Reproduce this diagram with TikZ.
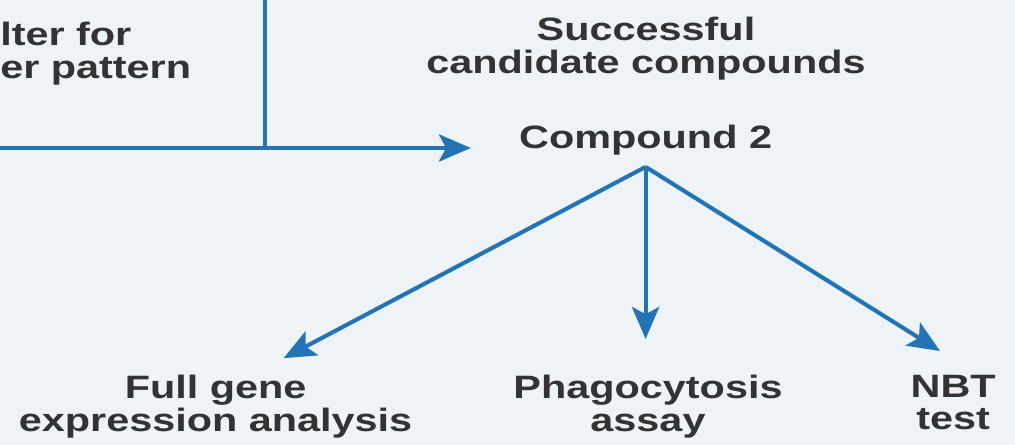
\documentclass[tikz,border=0pt]{standalone}
\usepackage{fontspec}
\newfontfamily\labelfont{Liberation Sans}[FakeStretch=1.28]
\usetikzlibrary{arrows.meta,positioning,calc}
\definecolor{flow}{HTML}{2474B5}
\definecolor{ink}{HTML}{333333}
\definecolor{paper}{HTML}{EEF3F8}
\tikzset{
  lbl/.style={align=center,inner sep=0pt,text=ink,
    font=\labelfont\bfseries\fontsize{23}{23}\selectfont},
  line/.style={draw=flow,line width=2.9pt},
  arr/.style={line,-{Stealth[length=0.8cm,width=0.68cm,inset=0.18cm]}},
}
\begin{document}
\begin{tikzpicture}
  \fill[paper] (0,0) rectangle (25.375,11.125);
  \useasboundingbox (0,0) rectangle (25.375,11.125);
  \clip (0,0) rectangle (25.375,11.125);
  \node[lbl,align=left,anchor=north west] (filter) at (0,10.575) {lter for\\er pattern};
  \node[lbl,anchor=north] (success) at (16.15,10.7) {Successful\\candidate compounds};
  \node[lbl,anchor=north] (c2) at (16.14,8.0) {Compound 2};
  \node[lbl,anchor=north] (gene) at (5.39,1.75) {Full gene\\expression analysis};
  \node[lbl,anchor=north] (phago) at (16.2,1.75) {Phagocytosis\\assay};
  \node[lbl,anchor=north] (nbt) at (23.83,1.75) {NBT\\test};
  \coordinate (feed) at (0,7.425);
  \coordinate (drop) at (6.625,11.125);
  \coordinate (fork) at ([yshift=-0.28cm]c2.south);
  \draw[line] (drop) -- (drop |- feed);
  \draw[arr,shorten >=1.2cm] (feed) -- (feed -| c2.west);
  \draw[arr] (fork) -- ([shift={(1.7,0.42)}]gene.north);
  \draw[arr,shorten >=0.9cm] (fork) -- (fork |- phago.north);
  \draw[arr] (fork) -- ([shift={(-0.33,0.6)}]nbt.north);
\end{tikzpicture}
\end{document}
